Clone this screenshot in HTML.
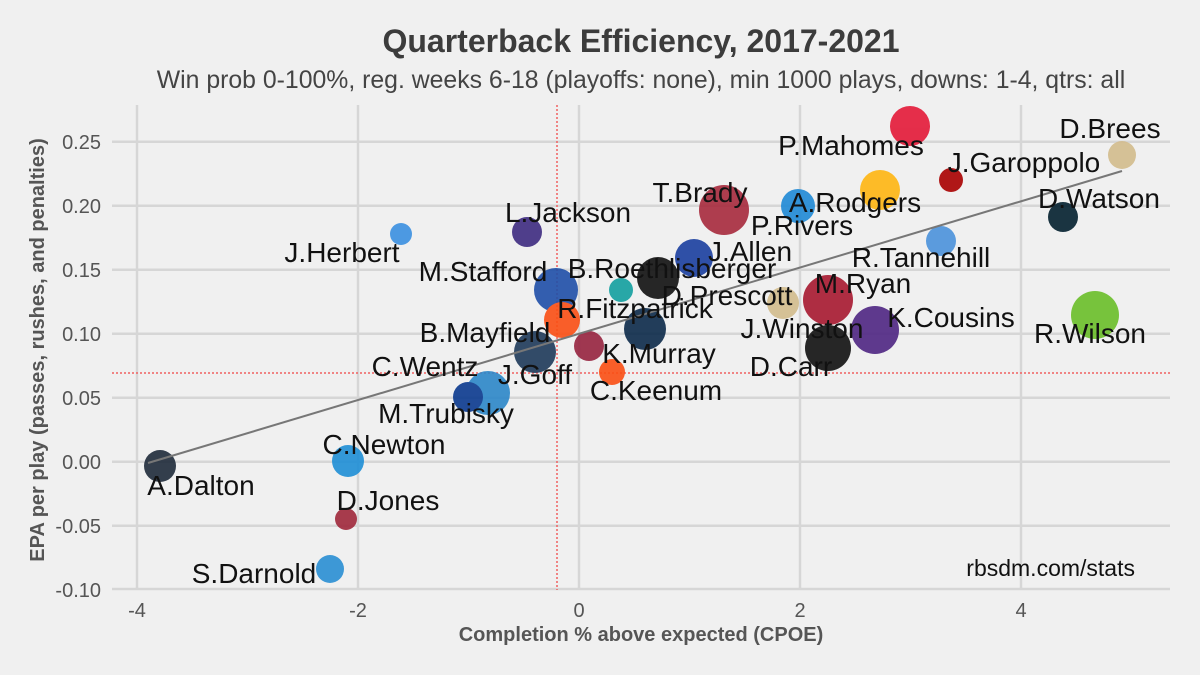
<!DOCTYPE html>
<html><head><meta charset="utf-8"><style>
html,body{margin:0;padding:0;background:#f0f0f0;}
svg{display:block;font-family:"Liberation Sans",sans-serif;}
</style></head><body>
<svg width="1200" height="675" viewBox="0 0 1200 675">
<rect width="1200" height="675" fill="#f0f0f0"/>
<text x="641" y="52" text-anchor="middle" font-size="32" font-weight="bold" fill="#3c3c3c">Quarterback Efficiency, 2017-2021</text>
<text x="641" y="88" text-anchor="middle" font-size="24.8" fill="#444">Win prob 0-100%, reg. weeks 6-18 (playoffs: none), min 1000 plays, downs: 1-4, qtrs: all</text>
<g stroke="#d6d6d6" stroke-width="2.5">
<line x1="112" x2="1170" y1="141.7" y2="141.7"/><line x1="112" x2="1170" y1="205.7" y2="205.7"/>
<line x1="112" x2="1170" y1="269.7" y2="269.7"/><line x1="112" x2="1170" y1="333.7" y2="333.7"/>
<line x1="112" x2="1170" y1="397.7" y2="397.7"/><line x1="112" x2="1170" y1="461.7" y2="461.7"/>
<line x1="112" x2="1170" y1="525.7" y2="525.7"/><line x1="112" x2="1170" y1="589" y2="589"/>
<line x1="137" x2="137" y1="105" y2="590"/><line x1="358" x2="358" y1="105" y2="590"/>
<line x1="579" x2="579" y1="105" y2="590"/><line x1="800" x2="800" y1="105" y2="590"/>
<line x1="1021" x2="1021" y1="105" y2="590"/>
</g>
<g font-size="20" fill="#555" text-anchor="end">
<text x="101" y="149">0.25</text><text x="101" y="213">0.20</text><text x="101" y="277">0.15</text>
<text x="101" y="341">0.10</text><text x="101" y="405">0.05</text><text x="101" y="469">0.00</text>
<text x="101" y="533">-0.05</text><text x="101" y="597">-0.10</text>
</g>
<g font-size="20" fill="#555" text-anchor="middle">
<text x="137" y="617">-4</text><text x="358" y="617">-2</text><text x="579" y="617">0</text>
<text x="800" y="617">2</text><text x="1021" y="617">4</text>
</g>
<text x="641" y="641" text-anchor="middle" font-size="20" font-weight="bold" fill="#555">Completion % above expected (CPOE)</text>
<text transform="translate(44,350) rotate(-90)" text-anchor="middle" font-size="20" font-weight="bold" fill="#555">EPA per play (passes, rushes, and penalties)</text>
<g stroke="#f06060" stroke-width="1.5" stroke-dasharray="2,2">
<line x1="557" x2="557" y1="105" y2="590"/><line x1="112" x2="1170" y1="373" y2="373"/>
</g>
<g opacity="0.9">
<circle cx="160" cy="466" r="16" fill="#1e2a3a"/>
<circle cx="348" cy="461" r="16" fill="#1f8fd6"/>
<circle cx="346" cy="519" r="11" fill="#a0283b"/>
<circle cx="330" cy="569" r="14" fill="#2a8fd4"/>
<circle cx="401" cy="234" r="11" fill="#3a8fe0"/>
<circle cx="527" cy="232" r="15" fill="#3d2a80"/>
<circle cx="488" cy="393" r="22" fill="#2c87c9"/>
<circle cx="468" cy="397" r="15" fill="#0b3a8f"/>
<circle cx="556" cy="290" r="22" fill="#1f4fa8"/>
<circle cx="562" cy="320" r="18" fill="#fb4f14"/>
<circle cx="535" cy="352" r="21" fill="#1e3a5a"/>
<circle cx="589" cy="346" r="15" fill="#97233f"/>
<circle cx="612" cy="372" r="13" fill="#fb4f14"/>
<circle cx="621" cy="290" r="12" fill="#13a0a0"/>
<circle cx="658" cy="278" r="21" fill="#111"/>
<circle cx="645" cy="329" r="21" fill="#0c2a4a"/>
<circle cx="694" cy="258" r="19" fill="#1b3fa0"/>
<circle cx="724" cy="210" r="25" fill="#a72a3d"/>
<circle cx="798" cy="206" r="17" fill="#1f8ad6"/>
<circle cx="880" cy="190" r="20" fill="#ffb612"/>
<circle cx="910" cy="126" r="20" fill="#e31837"/>
<circle cx="951" cy="180" r="12" fill="#aa0000"/>
<circle cx="1122" cy="155" r="14" fill="#d3bc8d"/>
<circle cx="1063" cy="217" r="15" fill="#03202f"/>
<circle cx="941" cy="241" r="15" fill="#4b92db"/>
<circle cx="783" cy="303" r="16" fill="#d3bc8d"/>
<circle cx="828" cy="300" r="25" fill="#a71930"/>
<circle cx="828" cy="348" r="23" fill="#111"/>
<circle cx="875" cy="330" r="24" fill="#4f2683"/>
<circle cx="1095" cy="315" r="24" fill="#69be28"/>
</g>
<line x1="148" y1="463" x2="1122" y2="171" stroke="#777" stroke-width="2"/>
<g font-size="28" fill="#111" text-anchor="middle">
<text x="201" y="495">A.Dalton</text><text x="384" y="454">C.Newton</text>
<text x="388" y="510">D.Jones</text><text x="254" y="583">S.Darnold</text>
<text x="342" y="262">J.Herbert</text><text x="483" y="281">M.Stafford</text>
<text x="485" y="342">B.Mayfield</text><text x="425" y="376">C.Wentz</text>
<text x="446" y="423">M.Trubisky</text><text x="851" y="155">P.Mahomes</text>
<text x="1024" y="172">J.Garoppolo</text><text x="1110" y="138">D.Brees</text>
<text x="1099" y="208">D.Watson</text><text x="921" y="267">R.Tannehill</text>
<text x="1090" y="343">R.Wilson</text><text x="700" y="202">T.Brady</text>
<text x="568" y="222">L.Jackson</text><text x="855" y="212">A.Rodgers</text>
<text x="802" y="235">P.Rivers</text><text x="750" y="261">J.Allen</text>
<text x="672" y="278">B.Roethlisberger</text><text x="863" y="293">M.Ryan</text>
<text x="727" y="305">D.Prescott</text><text x="635" y="318">R.Fitzpatrick</text>
<text x="802" y="338">J.Winston</text><text x="659" y="363">K.Murray</text>
<text x="791" y="376">D.Carr</text><text x="535" y="384">J.Goff</text>
<text x="656" y="400">C.Keenum</text><text x="951" y="327">K.Cousins</text>
</g>
<text x="1135" y="576" text-anchor="end" font-size="23" fill="#111">rbsdm.com/stats</text>
</svg>
</body></html>
